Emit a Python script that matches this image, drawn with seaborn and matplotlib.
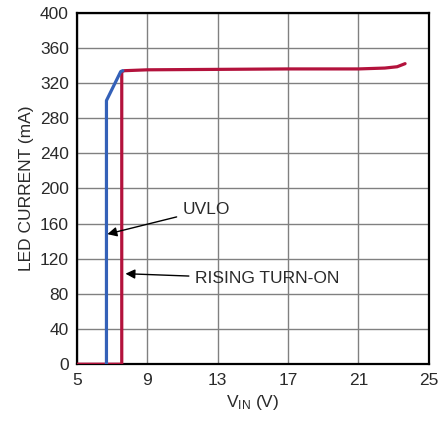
import matplotlib
matplotlib.use("Agg")
import matplotlib.pyplot as plt
import seaborn as sns
import pandas as pd
from matplotlib import font_manager

# Data
red_vin = [5.0, 7.54, 7.54, 7.7, 9.0, 13.0, 17.0, 21.0, 22.5, 23.2, 23.65]
red_ma = [0, 0, 333, 334, 335, 335.5, 336, 336, 337, 338.5, 342]
blue_vin = [6.67, 6.67, 7.48, 7.6]
blue_ma = [0, 300, 333, 334]
xticks = [5, 9, 13, 17, 21, 25]
yticks = list(range(0, 401, 40))

sns.set_theme(style="white")
names = {f.name for f in font_manager.fontManager.ttflist}
fam = "Liberation Sans Narrow" if "Liberation Sans Narrow" in names else "Liberation Sans"
plt.rcParams["font.family"] = [fam, "DejaVu Sans"]
plt.rcParams["mathtext.fontset"] = "custom"
plt.rcParams["mathtext.rm"] = fam
plt.rcParams["mathtext.it"] = fam

txt = "#2a2a2a"
fig = plt.figure(figsize=(4.43, 4.23), dpi=100)
ax = fig.add_axes([0.174, 0.139, 0.794, 0.831])

red_df = pd.DataFrame({"vin": red_vin, "ma": red_ma})
blue_df = pd.DataFrame({"vin": blue_vin, "ma": blue_ma})
sns.lineplot(data=red_df, x="vin", y="ma", sort=False, estimator=None,
             color="#b3123c", lw=2.3, ax=ax, zorder=3)
sns.lineplot(data=blue_df, x="vin", y="ma", sort=False, estimator=None,
             color="#3461b8", lw=2.3, ax=ax, zorder=4)

ax.set_xlim(5, 25)
ax.set_ylim(0, 400)
ax.set_xticks(xticks)
ax.set_yticks(yticks)
ax.grid(True, color="#808080", lw=1.0)
ax.set_axisbelow(True)
for s in ax.spines.values():
    s.set_color("black")
    s.set_linewidth(1.6)
ax.tick_params(axis="both", length=0, labelsize=12.5, labelcolor=txt, pad=6)
ax.set_xlabel(r"V$_{\mathrm{IN}}$ (V)", fontsize=12.5, color=txt, labelpad=4)
ax.set_ylabel("LED CURRENT (mA)", fontsize=12.5, color=txt, labelpad=4)

ax.annotate("UVLO", xy=(6.72, 148), xytext=(11.0, 176), fontsize=12.5, color=txt,
            va="center", ha="left",
            arrowprops=dict(arrowstyle="-|>", color="black", lw=1.0, mutation_scale=14,
                            shrinkA=2, shrinkB=0))
ax.annotate("RISING TURN-ON", xy=(7.75, 103), xytext=(11.7, 97), fontsize=12.5, color=txt,
            va="center", ha="left",
            arrowprops=dict(arrowstyle="-|>", color="black", lw=1.0, mutation_scale=14,
                            shrinkA=2, shrinkB=0))

fig.savefig("out.png", dpi=100)
